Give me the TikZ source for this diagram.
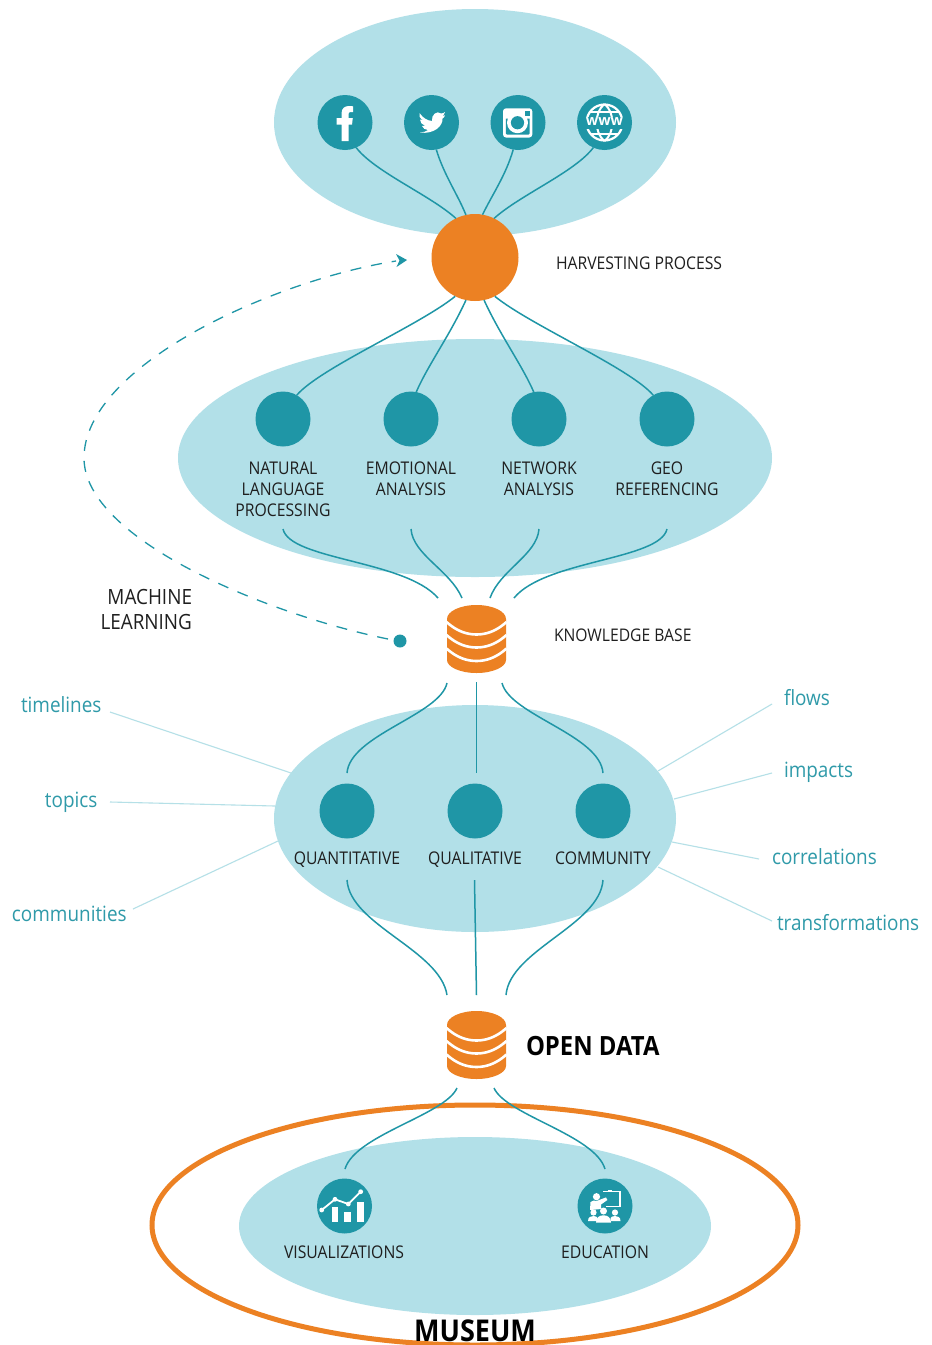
\documentclass[tikz,border=0pt]{standalone}
\usepackage{fontspec}
\setmainfont[FakeStretch=0.9]{Open Sans}
\newfontfamily\plainfont{Open Sans}
\usetikzlibrary{arrows.meta}
\definecolor{pale}{HTML}{B2E0E8}
\definecolor{teal}{HTML}{1F96A6}
\definecolor{sidetext}{HTML}{2F9AA9}
\definecolor{sideline}{HTML}{B5E0E7}
\definecolor{orng}{HTML}{EC8123}
\tikzset{
 blob/.style={fill=pale,draw=none},
 hub/.style={circle,fill=teal,draw=none,minimum size=55pt,inner sep=0pt,outer sep=0pt},
 link/.style={draw=teal,line width=1.5pt},
 side/.style={draw=sideline,line width=1.1pt},
 lab/.style={inner sep=0pt,outer sep=0pt,text=black!88,font=\fontsize{17.5}{21}\selectfont,align=center},
 sidelab/.style={inner sep=0pt,outer sep=0pt,text=sidetext,font=\fontsize{21}{24}\selectfont,anchor=base west},
 ico/.style={fill=white,draw=none},
}
\newcommand{\dbcyl}[2]{%
 \begin{scope}[shift={(#1,#2)}]
  \fill[orng] (-29.5,0) .. controls (-29.5,-7.7) and (-16.3,-14) .. (0,-14) .. controls (16.3,-14) and (29.5,-7.7) .. (29.5,0) -- (29.5,41) .. controls (29.5,48) and (16.3,54) .. (0,54) .. controls (-16.3,54) and (-29.5,48) .. (-29.5,41) -- cycle;
  \foreach \d in {3,16,29.5}{
   \draw[white,line width=2.6pt] (-30,\d) .. controls (-20,\d+9) and (-10,\d+12.5) .. (0,\d+12.5) .. controls (10,\d+12.5) and (20,\d+9) .. (30,\d);
  }
 \end{scope}}
\begin{document}
\begin{tikzpicture}[x=1pt,y=-1pt]
\useasboundingbox (0,0) rectangle (932,1345);
\fill[white] (0,0) rectangle (932,1345);
% blobs
\fill[blob] (475,122.5) ellipse[x radius=201,y radius=113.5];
\fill[blob] (475,458) ellipse[x radius=297,y radius=119];
\fill[blob] (475,818.5) ellipse[x radius=201,y radius=113.5];
\draw[orng,line width=5pt] (475,1225) ellipse[x radius=323,y radius=120];
\fill[blob] (475,1226) ellipse[x radius=236,y radius=89];
% hubs
\node[hub] (fb) at (345,122.5) {};
\node[hub] (tw) at (431.5,122.5) {};
\node[hub] (ig) at (518,122.5) {};
\node[hub] (web) at (604.5,122.5) {};
\node[circle,fill=orng,minimum size=87pt,inner sep=0pt,outer sep=0pt] (harvest) at (475,257.5) {};
\node[hub] (nlp) at (283,419) {};
\node[hub] (emo) at (411,419) {};
\node[hub] (net) at (539,419) {};
\node[hub] (geo) at (667,419) {};
\node[hub] (quan) at (347,811) {};
\node[hub] (qual) at (475,811) {};
\node[hub] (comm) at (603,811) {};
\node[hub] (vis) at (344.5,1206) {};
\node[hub] (edu) at (605,1206) {};
\node[circle,fill=teal,minimum size=13pt,inner sep=0pt,outer sep=0pt] (dot) at (400,641) {};
\dbcyl{476.5}{619}
\dbcyl{476.5}{1025}
% free ends
\coordinate (a1) at (283,529); \coordinate (a2) at (411,529); \coordinate (a3) at (539,529); \coordinate (a4) at (667,529);
\coordinate (k1) at (438,598); \coordinate (k2) at (462,598); \coordinate (k3) at (490,598); \coordinate (k4) at (514,598);
\coordinate (m1) at (447,683); \coordinate (m2) at (476.5,682); \coordinate (m3) at (502,683);
\coordinate (t1) at (347,773); \coordinate (t2) at (476.5,773); \coordinate (t3) at (603,773);
\coordinate (b1) at (347,880); \coordinate (b2) at (474.5,880); \coordinate (b3) at (603,880);
\coordinate (o1) at (447,995); \coordinate (o2) at (476.5,995); \coordinate (o3) at (506,995);
\coordinate (d1) at (457,1088); \coordinate (d2) at (494,1088);
\coordinate (v1) at (345,1169); \coordinate (v2) at (605,1169);
\coordinate (arrowend) at (407,260);
% connectors
\draw[link] (fb.-66) .. controls (375,172) and (430,195) .. (harvest.116);
\draw[link] (tw.-80) .. controls (444,175) and (458,195) .. (harvest.102);
\draw[link] (ig.-100) .. controls (506,175) and (492,195) .. (harvest.80);
\draw[link] (web.-114) .. controls (575,172) and (520,195) .. (harvest.64);
\draw[link] (harvest.-117) .. controls (420,325) and (320,368) .. (nlp.60);
\draw[link] (harvest.-102) .. controls (450,335) and (428,365) .. (emo.79);
\draw[link] (harvest.-78) .. controls (500,335) and (522,365) .. (net.101);
\draw[link] (harvest.-63) .. controls (530,325) and (630,368) .. (geo.120);
\draw[link] (a1) .. controls (290,560) and (405,560) .. (k1);
\draw[link] (a2) .. controls (413,555) and (450,570) .. (k2);
\draw[link] (a3) .. controls (537,555) and (500,570) .. (k3);
\draw[link] (a4) .. controls (660,560) and (545,560) .. (k4);
\draw[link] (m1) .. controls (440,715) and (350,735) .. (t1);
\draw[link] (m2) -- (t2);
\draw[link] (m3) .. controls (510,715) and (600,735) .. (t3);
\draw[link] (b1) .. controls (350,925) and (440,950) .. (o1);
\draw[link] (b2) -- (o2);
\draw[link] (b3) .. controls (600,925) and (510,950) .. (o3);
\draw[link] (d1) .. controls (445,1115) and (355,1135) .. (v1);
\draw[link] (d2) .. controls (506,1115) and (595,1135) .. (v2);
\draw[teal,line width=1.3pt,dash pattern=on 11pt off 10pt] (dot) ++(-12,-2) .. controls (270,615) and (84,540) .. (84,458) .. controls (84,365) and (275,280) .. (396,261);
\fill[teal] (arrowend) -- (396,254) -- (399.5,260.5) -- (396.5,267) -- cycle;
% side
\coordinate (s1a) at (110,712); \coordinate (s1b) at (291,773);
\coordinate (s2a) at (110,802); \coordinate (s2b) at (275,806);
\coordinate (s3a) at (133,909); \coordinate (s3b) at (278,841);
\coordinate (s4a) at (772,704); \coordinate (s4b) at (658,771);
\coordinate (s5a) at (772,773); \coordinate (s5b) at (674,799);
\coordinate (s6a) at (759,859); \coordinate (s6b) at (672,842);
\coordinate (s7a) at (772,921); \coordinate (s7b) at (658,867);
\foreach \n in {1,...,7}{\draw[side] (s\n a) -- (s\n b);}
\node[sidelab] (ltime) at (21,712) {timelines};
\node[sidelab] (ltop) at (45,807.5) {topics};
\node[sidelab] (lcomm) at (12,921) {communities};
\node[sidelab] (lflow) at (784,705.5) {flows};
\node[sidelab] (limp) at (784,777) {impacts};
\node[sidelab] (lcorr) at (772,864) {correlations};
\node[sidelab] (ltrans) at (777,930) {transformations};
% labels
\node[lab,anchor=base west] (lharv) at (556,269) {HARVESTING PROCESS};
\node[lab] (lnlp) at (283,489.5) {NATURAL\\LANGUAGE\\PROCESSING};
\node[lab] (lemo) at (411,479) {EMOTIONAL\\ANALYSIS};
\node[lab] (lnet) at (539,479) {NETWORK\\ANALYSIS};
\node[lab] (lgeo) at (667,479) {GEO\\REFERENCING};
\node[lab,anchor=base west,font=\fontsize{17.4}{19}\selectfont] (lkb) at (554,641.5) {KNOWLEDGE BASE};
\node[lab,anchor=east,align=right,font=\fontsize{21}{25}\selectfont] (lml) at (192,609) {MACHINE\\LEARNING};
\node[lab,anchor=base] (lq1) at (347,864) {QUANTITATIVE};
\node[lab,anchor=base] (lq2) at (475,864) {QUALITATIVE};
\node[lab,anchor=base] (lq3) at (603,864) {COMMUNITY};
\node[lab,anchor=base west,font=\fontsize{26.5}{30}\selectfont\bfseries,text=black] (lod) at (526,1055) {OPEN DATA};
\node[lab,anchor=base] (lvis) at (344,1258) {VISUALIZATIONS};
\node[lab,anchor=base] (ledu) at (605,1258) {EDUCATION};
\node[lab,anchor=base,font=\fontsize{30}{34}\selectfont\bfseries,text=black] (lmus) at (475,1341) {MUSEUM};
% facebook
\fill[ico] (341.5,141) -- (341.5,124.5) -- (336.7,124.5) -- (336.7,118) -- (341.5,118) -- (341.5,113.5) .. controls (341.5,108) and (345,106) .. (349,106) -- (353,106.3) -- (353,112) -- (350.5,112) .. controls (348.8,112) and (348.5,113) .. (348.5,114.5) -- (348.5,118) -- (352.8,118) -- (352,124.5) -- (348.5,124.5) -- (348.5,141) -- cycle;
% twitter
\fill[ico] (419.5,113) .. controls (423,118) and (427,120.5) .. (432,121) .. controls (431,115) and (437,110) .. (441,113.5) .. controls (442.5,113.5) and (444,113) .. (445,112) .. controls (444.5,114) and (443.5,115) .. (442.5,116) .. controls (443.5,116) and (444.5,115.5) .. (445,115.3) .. controls (444.5,117) and (443.5,118) .. (442.5,118.5) .. controls (443,126) and (434,134.5) .. (420,132.5) .. controls (423,132.5) and (426,131.5) .. (428,130) .. controls (425,130) and (423,128) .. (422,126) .. controls (423,126) and (424,126) .. (425,125.7) .. controls (422,125) and (420,122) .. (420,119.5) .. controls (421,120) and (422,120.3) .. (423,120.3) .. controls (420,118.5) and (418.5,115.5) .. (419.5,113) -- cycle;
% instagram
\fill[ico,rounded corners=3pt] (503,108.3) rectangle (532.3,137.5);
\fill[teal] (505.8,118.5) -- (510.5,118.5) .. controls (513,114) and (522,114) .. (524.5,118.5) -- (529.5,118.5) -- (529.5,133.5) .. controls (529.5,134.3) and (529,134.7) .. (528.3,134.7) -- (507,134.7) .. controls (506.3,134.7) and (505.8,134.3) .. (505.8,133.5) -- cycle;
\fill[ico] (517.5,122.7) circle (10.5);
\fill[teal] (517.5,122.7) circle (6.6);
\fill[teal] (525,110.8) rectangle (530,116);
% www globe
\begin{scope}
\draw[white,line width=2.2pt] (604.5,122.5) circle (18);
\draw[white,line width=2pt] (604.5,104) .. controls (594,112) and (594,133) .. (604.5,141);
\draw[white,line width=2pt] (604.5,104) .. controls (615,112) and (615,133) .. (604.5,141);
\draw[white,line width=2pt] (590,111.5) -- (619,111.5);
\draw[white,line width=2pt] (590,133.5) -- (619,133.5);
\fill[teal] (584,116.5) rectangle (625,128.5);
\end{scope}
\node[inner sep=0pt,text=white,font=\plainfont\fontsize{14.5}{13}\selectfont\bfseries] (wwwt) at (604.5,121.5) {www};
% chart
\fill[ico] (331.7,1207) rectangle (338.3,1222);
\fill[ico] (344,1212) rectangle (351,1222);
\fill[ico] (356.7,1202) rectangle (364,1222);
\draw[white,line width=1.8pt] (321.7,1210) -- (335,1199.3) -- (348.3,1204) -- (360.7,1191.7);
\foreach \p in {(321.7,1210),(335,1199.3),(348.3,1204),(360.7,1191.7)}{\fill[ico] \p circle (2.4);}
% education
\draw[white,line width=1.5pt] (603,1191.5) -- (620,1191.5) -- (620,1206.5) -- (606,1206.5);
\fill[ico] (608,1190) rectangle (612,1192);
\fill[ico] (596.5,1196.7) circle (3.6);
\fill[ico] (590.5,1202) .. controls (592,1200.3) and (594,1200.6) .. (597,1200.8) -- (606,1197.4) -- (607.4,1200) -- (601,1204.5) -- (601,1209) -- (596,1209.5) -- (590,1210) -- cycle;
\foreach \x/\y/\r in {593.5/1212.5/3.1,603.5/1211/3.5,615/1212.5/3.1}{\fill[ico] (\x,\y) circle (\r);}
\fill[ico] (588,1221) .. controls (588,1216.8) and (591,1216) .. (593.5,1216) .. controls (596,1216) and (597,1217) .. (597.5,1218) -- (597.5,1221) -- cycle;
\fill[ico] (610.5,1221) -- (610.5,1218) .. controls (611,1217) and (612.5,1216) .. (615,1216) .. controls (617.5,1216) and (620.5,1216.8) .. (620.5,1221) -- cycle;
\fill[ico] (596,1222.5) .. controls (596,1217) and (600,1215.3) .. (603.5,1215.3) .. controls (607,1215.3) and (611,1217) .. (611,1222.5) -- cycle;
\end{tikzpicture}
\end{document}
